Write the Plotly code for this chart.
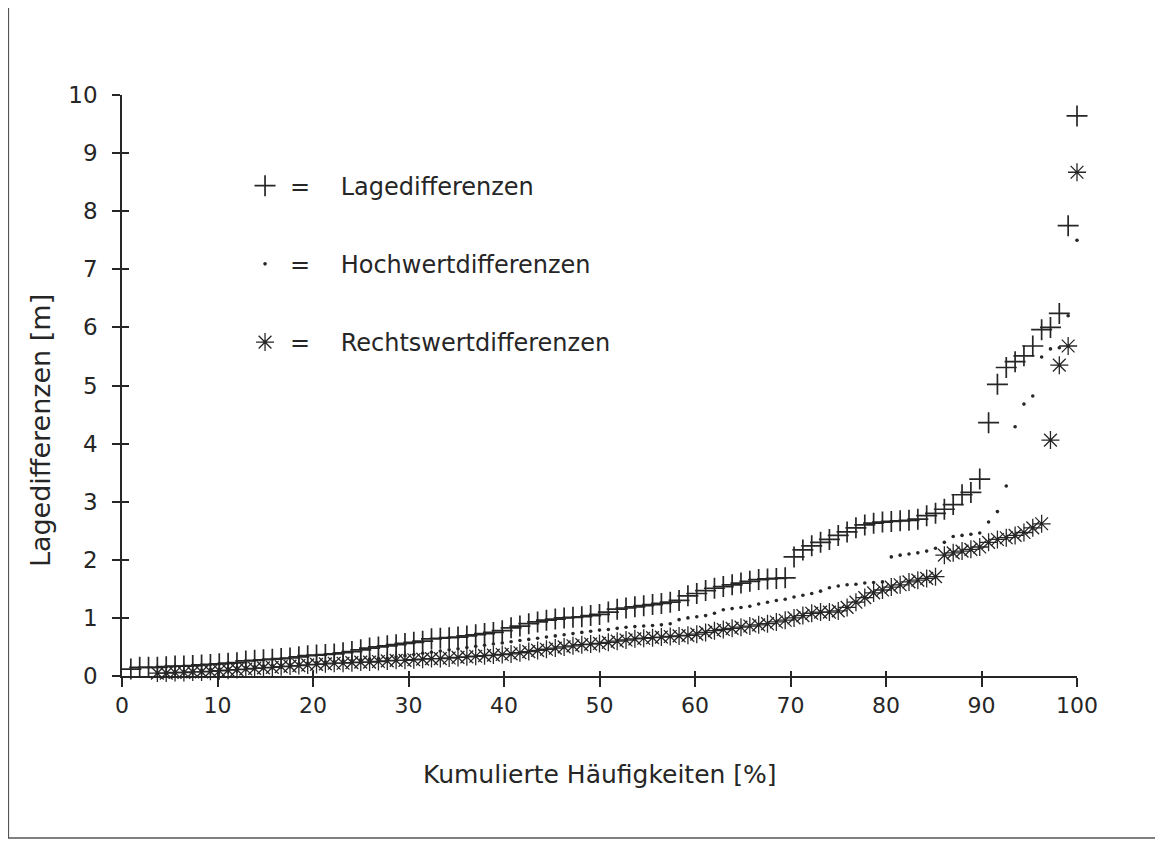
import plotly.graph_objects as go

# ---------------- data ----------------
N_PUNKTE = 108  # number of sorted differences per series
kum_haeufigkeit = [round(100 * k / N_PUNKTE, 3) for k in range(1, N_PUNKTE + 1)]

lagedifferenzen = [
    0.12, 0.15, 0.15, 0.15, 0.16, 0.17, 0.17, 0.18, 0.19, 0.20,
    0.21, 0.22, 0.23, 0.26, 0.27, 0.28, 0.29, 0.30, 0.31, 0.33,
    0.35, 0.36, 0.37, 0.38, 0.40, 0.42, 0.45, 0.48, 0.50, 0.52,
    0.54, 0.56, 0.58, 0.60, 0.64, 0.65, 0.66, 0.67, 0.69, 0.71,
    0.73, 0.75, 0.78, 0.83, 0.86, 0.90, 0.93, 0.96, 0.98, 1.00,
    1.01, 1.02, 1.04, 1.06, 1.10, 1.15, 1.17, 1.19, 1.21, 1.23,
    1.25, 1.27, 1.30, 1.38, 1.42, 1.47, 1.51, 1.54, 1.57, 1.60,
    1.63, 1.66, 1.67, 1.68, 1.69, 2.05, 2.17, 2.24, 2.30, 2.35,
    2.42, 2.48, 2.55, 2.60, 2.63, 2.65, 2.66, 2.67, 2.68, 2.70,
    2.76, 2.80, 2.87, 2.95, 3.12, 3.16, 3.39, 4.36, 5.02, 5.31,
    5.41, 5.51, 5.68, 5.96, 6.00, 6.24, 7.75, 9.64,
]

hochwertdifferenzen = [
    None, None, None, 0.05, 0.06, 0.07, 0.08, 0.09, 0.10, 0.11,
    0.12, 0.13, 0.14, 0.15, 0.16, 0.17, 0.18, 0.19, 0.20, 0.21,
    0.22, 0.23, 0.24, 0.25, 0.26, 0.27, 0.28, 0.29, 0.30, 0.31,
    0.33, 0.35, 0.37, 0.39, 0.41, 0.43, 0.45, 0.47, 0.49, 0.51,
    0.53, 0.55, 0.57, 0.59, 0.61, 0.63, 0.65, 0.67, 0.69, 0.71,
    0.73, 0.75, 0.77, 0.79, 0.80, 0.82, 0.84, 0.85, 0.86, 0.87,
    0.88, 0.90, 0.97, 1.00, 1.02, 1.04, 1.08, 1.14, 1.16, 1.18,
    1.20, 1.24, 1.27, 1.30, 1.32, 1.36, 1.39, 1.42, 1.46, 1.52,
    1.55, 1.57, 1.58, 1.60, 1.61, 1.62, 2.05, 2.08, 2.10, 2.12,
    2.15, 2.20, 2.30, 2.40, 2.42, 2.44, 2.46, 2.65, 2.83, 3.27,
    4.29, 4.68, 4.82, 5.49, 5.63, 5.65, 6.20, 7.50,
]

rechtswertdifferenzen = [
    None, None, None, 0.05, 0.05, 0.06, 0.06, 0.07, 0.07, 0.08,
    0.09, 0.10, 0.11, 0.12, 0.13, 0.14, 0.15, 0.16, 0.17, 0.18,
    0.19, 0.20, 0.21, 0.22, 0.22, 0.23, 0.24, 0.24, 0.25, 0.26,
    0.27, 0.27, 0.28, 0.29, 0.30, 0.30, 0.31, 0.32, 0.33, 0.34,
    0.35, 0.36, 0.37, 0.38, 0.40, 0.42, 0.44, 0.46, 0.48, 0.50,
    0.52, 0.54, 0.55, 0.56, 0.58, 0.60, 0.62, 0.64, 0.65, 0.66,
    0.67, 0.68, 0.69, 0.70, 0.72, 0.75, 0.78, 0.80, 0.82, 0.84,
    0.86, 0.88, 0.90, 0.93, 0.96, 1.00, 1.04, 1.08, 1.10, 1.10,
    1.12, 1.18, 1.27, 1.35, 1.43, 1.48, 1.53, 1.57, 1.62, 1.65,
    1.68, 1.71, 2.08, 2.12, 2.15, 2.18, 2.22, 2.30, 2.35, 2.38,
    2.42, 2.47, 2.55, 2.62, 4.06, 5.35, 5.68, 8.67,
]

x_ticks = [0, 10, 20, 30, 40, 50, 60, 70, 80, 90, 100]
y_ticks = [0, 1, 2, 3, 4, 5, 6, 7, 8, 9, 10]

NB = "\u00a0"
legend_names = [
    "=" + NB * 4 + "Lagedifferenzen",
    "=" + NB * 4 + "Hochwertdifferenzen",
    "=" + NB * 4 + "Rechtswertdifferenzen",
]

x_title = "Kumulierte Häufigkeiten [%]"
y_title = "Lagedifferenzen [m]"

# ---------------- figure ----------------
INK = "#262626"
FONT = "DejaVu Sans"

fig = go.Figure()

fig.add_trace(go.Scatter(
    x=kum_haeufigkeit, y=lagedifferenzen, mode="markers", name=legend_names[0],
    legendgroup="a", cliponaxis=False,
    marker=dict(symbol="cross-thin-open", size=15, color=INK,
                line=dict(width=1.7, color=INK)),
))
fig.add_trace(go.Scatter(
    x=kum_haeufigkeit, y=hochwertdifferenzen, mode="markers", name=legend_names[1],
    legendgroup="b", cliponaxis=False,
    marker=dict(symbol="circle", size=3.6, color=INK, line=dict(width=0)),
))
fig.add_trace(go.Scatter(
    x=kum_haeufigkeit, y=rechtswertdifferenzen, mode="markers", name=legend_names[2],
    legendgroup="c", cliponaxis=False,
    marker=dict(symbol="asterisk-open", size=15, color=INK,
                line=dict(width=1.3, color=INK)),
))
# invisible trace to realise the overlay axes (inner halves of crossing ticks)
fig.add_trace(go.Scatter(x=[None], y=[None], xaxis="x2", yaxis="y2",
                         showlegend=False, hoverinfo="skip"))

axis_common = dict(showgrid=False, zeroline=False, mirror=False)

# the page body adds an 8px offset, so the figure is 8px smaller and margins shifted
fig.update_layout(
    width=1155, height=833,
    margin=dict(l=114, r=86, t=87, b=165, pad=0),
    paper_bgcolor="white", plot_bgcolor="white",
    font=dict(family=FONT, size=22, color=INK),
    xaxis=dict(range=[0, 100], tickvals=x_ticks, ticktext=[str(v) for v in x_ticks],
               ticks="outside", ticklen=9, tickwidth=1.5, tickcolor=INK,
               showline=True, linewidth=1.5, linecolor=INK,
               tickfont=dict(size=22, family=FONT), anchor="y", **axis_common),
    yaxis=dict(range=[0, 10], tickvals=y_ticks, ticktext=[str(v) for v in y_ticks],
               ticks="outside", ticklen=8, tickwidth=1.5, tickcolor=INK,
               ticklabelstandoff=10,
               showline=True, linewidth=1.5, linecolor=INK,
               tickfont=dict(size=23, family=FONT), anchor="x", **axis_common),
    xaxis2=dict(range=[0, 100], tickvals=x_ticks, overlaying="x", anchor="y",
                side="bottom", ticks="inside", ticklen=5, tickwidth=1.5, tickcolor=INK,
                showticklabels=False, showline=False, **axis_common),
    yaxis2=dict(range=[0, 10], tickvals=y_ticks, overlaying="y", anchor="x",
                side="left", ticks="inside", ticklen=7, tickwidth=1.5, tickcolor=INK,
                showticklabels=False, showline=False, **axis_common),
    showlegend=True,
    legend=dict(x=0.1236, y=0.882, xanchor="left", yanchor="top",
                bgcolor="rgba(0,0,0,0)", borderwidth=0,
                font=dict(size=24, family=FONT, color=INK),
                traceorder="grouped", tracegroupgap=44, itemwidth=40),
    annotations=[
        dict(text=x_title, xref="paper", yref="paper", x=0.5, y=-0.17,
             xanchor="center", yanchor="middle", showarrow=False,
             font=dict(size=25, family=FONT, color=INK)),
        dict(text=y_title, xref="paper", yref="paper", x=-0.086, y=0.423,
             xanchor="center", yanchor="middle", showarrow=False, textangle=-90,
             font=dict(size=27, family=FONT, color=INK)),
    ],
    shapes=[
        dict(type="rect", xref="paper", yref="paper",
             x0=-0.119, x1=1.087, y0=-0.279, y1=1.158,
             line=dict(color="#555555", width=1.5)),
    ],
)

fig.write_html("out.html")
